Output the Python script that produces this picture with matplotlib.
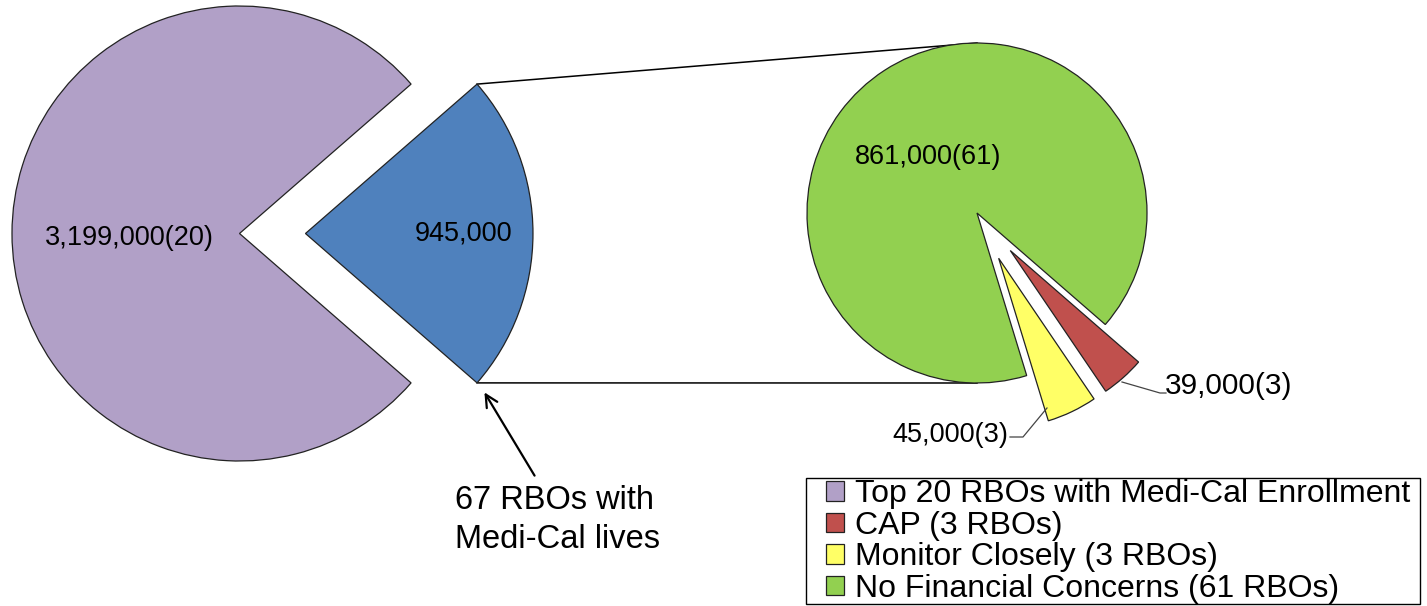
import matplotlib
matplotlib.use("Agg")
import matplotlib.pyplot as plt
import numpy as np

plt.rcParams['font.family'] = ['Liberation Sans', 'DejaVu Sans']

# ---- data ----
main_labels = ["67 RBOs with Medi-Cal lives", "Top 20 RBOs with Medi-Cal Enrollment"]
main_values = [945000, 3199000]
main_text = ["945,000", "3,199,000(20)"]

sub_labels = ["No Financial Concerns (61 RBOs)", "Monitor Closely (3 RBOs)", "CAP (3 RBOs)"]
sub_values = [861000, 45000, 39000]
sub_text = ["861,000(61)", "45,000(3)", "39,000(3)"]

legend_order = ["Top 20 RBOs with Medi-Cal Enrollment", "CAP (3 RBOs)",
                "Monitor Closely (3 RBOs)", "No Financial Concerns (61 RBOs)"]

# ---- style ----
C_BLUE = "#4F81BD"
C_PURPLE = "#B1A0C7"
C_GREEN = "#92D050"
C_YELLOW = "#FFFF66"
C_RED = "#C0504D"
EDGE = "#222222"

W, H = 1427, 606
fig = plt.figure(figsize=(W / 100, H / 100), dpi=100)
ax = fig.add_axes([0, 0, 1, 1])

# left pie (explode given in data units since radius != 1)
c1 = (239.5, 372.5)
r1 = 227.5
span1 = main_values[0] / sum(main_values) * 360
w1, _ = ax.pie(main_values, colors=[C_BLUE, C_PURPLE], startangle=-span1 / 2,
               explode=[0.29 * r1, 0], center=c1, radius=r1, counterclock=True,
               wedgeprops=dict(edgecolor=EDGE, linewidth=0.9), frame=True)

# right pie
c2 = (977, 393)
r2 = 170
w2, _ = ax.pie(sub_values, colors=[C_GREEN, C_YELLOW, C_RED], startangle=-41,
               explode=[0, 0.295 * r2, 0.295 * r2], center=c2, radius=r2,
               counterclock=True,
               wedgeprops=dict(edgecolor=EDGE, linewidth=0.9), frame=True)

# connector lines from exploded blue wedge to the right pie
bw = w1[0]
bc = bw.center
t1, t2 = np.deg2rad(bw.theta1), np.deg2rad(bw.theta2)
p_top = (bc[0] + r1 * np.cos(t2), bc[1] + r1 * np.sin(t2))
p_bot = (bc[0] + r1 * np.cos(t1), bc[1] + r1 * np.sin(t1))
ax.plot([p_top[0], c2[0]], [p_top[1], c2[1] + r2], color="black", lw=1.1, zorder=0)
ax.plot([p_bot[0], c2[0]], [p_bot[1], c2[1] - r2], color="black", lw=1.1, zorder=0)

# data labels
fs = 19.5
ax.text(129, 368, main_text[1], fontsize=fs, ha="center", va="center")
ax.text(464, 372, main_text[0], fontsize=fs, ha="center", va="center")
ax.text(928, 449, sub_text[0], fontsize=fs, ha="center", va="center")
ax.text(1165, 220, sub_text[2], fontsize=21.5, ha="left", va="center")
ax.text(1008, 171, sub_text[1], fontsize=fs, ha="right", va="center")

# leader lines
ax.plot([1122, 1160, 1166], [224, 213, 213], color="#444444", lw=0.9)
ax.plot([1047, 1023, 1010], [198, 169, 169], color="#444444", lw=0.9)

# annotation arrow
ax.annotate("", xy=(483, 216), xytext=(536, 128),
            arrowprops=dict(arrowstyle="->", color="black", lw=1.6,
                            mutation_scale=22))
ax.text(455, 86, "67 RBOs with\nMedi-Cal lives", fontsize=23.5, ha="left",
        va="center", linespacing=1.3)

# legend (frame drawn separately to match the reference box)
handle_map = {main_labels[1]: w1[1], sub_labels[2]: w2[2],
              sub_labels[1]: w2[1], sub_labels[0]: w2[0]}
handles = [plt.Rectangle((0, 0), 1, 1, facecolor=h.get_facecolor(),
                         edgecolor=EDGE, linewidth=0.9) for h in
           [handle_map[l] for l in legend_order]]
leg = ax.legend(handles, legend_order, loc="lower left",
                bbox_to_anchor=(826 / W, 2 / H), bbox_transform=fig.transFigure,
                fontsize=23, frameon=False, borderpad=0, labelspacing=0.05,
                handlelength=0.55, handleheight=0.55, handletextpad=0.35,
                borderaxespad=0)
ax.add_patch(plt.Rectangle((806, 2), 614, 126, facecolor="none",
                           edgecolor="black", linewidth=1.0, zorder=0))

ax.set_xlim(0, W)
ax.set_ylim(0, H)
ax.set_aspect("equal")
ax.axis("off")

fig.savefig("out.png", dpi=100)
